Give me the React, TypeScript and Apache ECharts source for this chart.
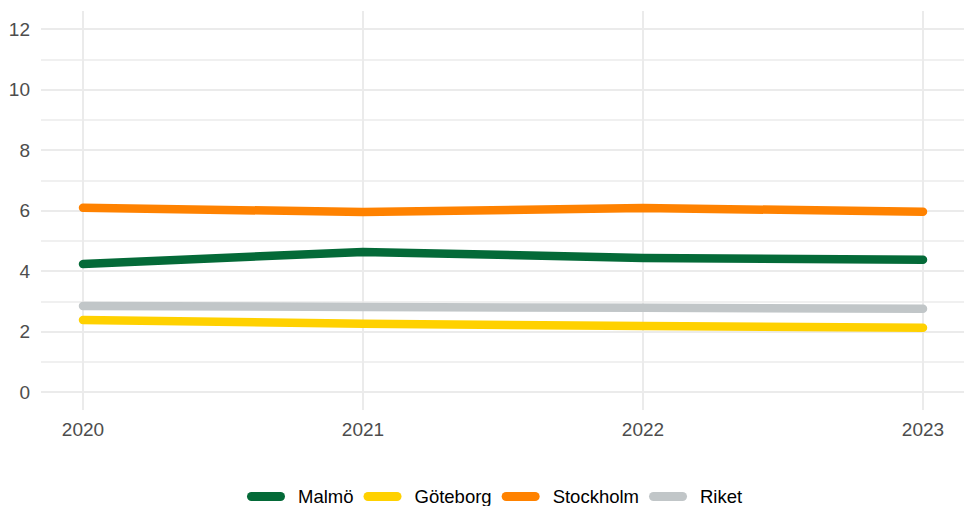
import React, { useEffect, useRef } from "react";
import * as echarts from "echarts";

const years = ["2020", "2021", "2022", "2023"];
const seriesNames = ["Malmö", "Göteborg", "Stockholm", "Riket"];
const malmo = [4.23, 4.63, 4.43, 4.37];
const goteborg = [2.38, 2.25, 2.18, 2.12];
const stockholm = [6.09, 5.95, 6.08, 5.96];
const riket = [2.84, 2.81, 2.78, 2.75];
const colors = ["#046a38", "#ffd100", "#ff8200", "#c1c6c8"];

const FONT = "Liberation Sans, Arial, sans-serif";
const GRID_COLOR = "#ebebeb";

export default function App() {
  const ref = useRef<HTMLDivElement>(null);
  useEffect(() => {
    if (!ref.current) return;
    const chart = echarts.init(ref.current, null, { renderer: "svg" });
    const values = [malmo, goteborg, stockholm, riket];
    chart.setOption({
      animation: false,
      backgroundColor: "#ffffff",
      textStyle: { fontFamily: FONT },
      grid: [
        { left: 41, right: 0, top: 29, height: 363 },
        { left: 83, right: 41, top: 11, height: 399 },
      ],
      xAxis: [
        {
          gridIndex: 0,
          type: "value",
          min: 0,
          max: 1,
          show: false,
        },
        {
          gridIndex: 1,
          type: "category",
          data: years,
          boundaryGap: false,
          axisLine: { show: false },
          axisTick: { show: false },
          axisLabel: { color: "#4d4d4d", fontSize: 19, margin: 10, fontFamily: FONT },
          splitLine: { show: true, lineStyle: { color: GRID_COLOR, width: 2 } },
        },
      ],
      yAxis: [
        {
          gridIndex: 0,
          type: "value",
          min: 0,
          max: 12,
          interval: 2,
          axisLine: { show: false },
          axisTick: { show: false },
          axisLabel: { color: "#4d4d4d", fontSize: 19, margin: 11, fontFamily: FONT },
          splitLine: { show: true, lineStyle: { color: GRID_COLOR, width: 2 } },
          minorTick: { show: false, splitNumber: 2 },
          minorSplitLine: { show: true, lineStyle: { color: GRID_COLOR, width: 1.5 } },
        },
        {
          gridIndex: 1,
          type: "value",
          min: -0.6,
          max: 12.6,
          show: false,
          splitLine: { show: false },
        },
      ],
      legend: {
        data: seriesNames,
        top: 482,
        left: 242,
        itemWidth: 38,
        itemHeight: 9,
        itemGap: 10,
        icon: "path://M4.5,0 L33.5,0 A4.5,4.5 0 0 1 33.5,9 L4.5,9 A4.5,4.5 0 0 1 4.5,0 Z",
        textStyle: { color: "#000000", fontSize: 18.5, fontFamily: FONT, padding: [0, 0, 0, 8] },
      },
      series: seriesNames.map((name, i) => ({
        name,
        type: "line",
        xAxisIndex: 1,
        yAxisIndex: 1,
        data: values[i],
        symbol: "none",
        color: colors[i],
        lineStyle: { color: colors[i], width: 8.5, cap: "round", join: "round" },
      })),
    });
    return () => chart.dispose();
  }, []);
  return <div ref={ref} style={{ width: 964, height: 506, position: "absolute", left: 0, top: 0 }} />;
}
